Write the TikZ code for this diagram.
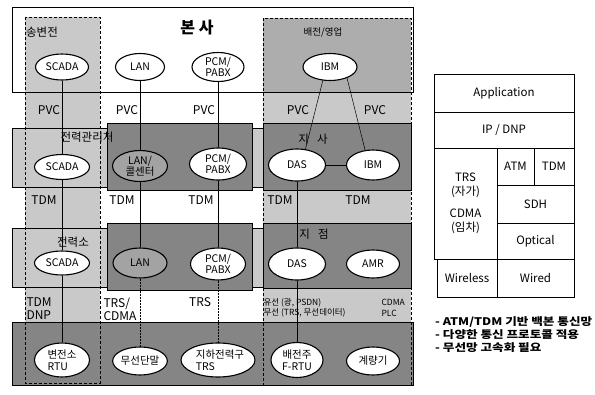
\documentclass[tikz,border=0pt]{standalone}
\usepackage{fontspec}
\setmainfont{Noto Sans CJK KR}
\newfontfamily\notefont[FakeStretch=1.2]{Noto Sans CJK KR}
\usetikzlibrary{shapes.geometric}
\definecolor{shadeL}{gray}{0.79}
\definecolor{shadeM}{gray}{0.68}
\definecolor{shadeD}{gray}{0.52}
\definecolor{shadeE}{gray}{0.64}

\begin{document}
\begin{tikzpicture}[x=1pt, y=-1pt, font=\fontsize{10.5}{11.5}\selectfont,
    el/.style={ellipse, draw=black, line width=1.1pt, fill=white, inner sep=0pt, align=center, minimum width=54pt, minimum height=28pt},
    box/.style={draw=black, line width=0.7pt},
    lk/.style={font=\fontsize{12}{13}\selectfont},
    ttl/.style={font=\fontsize{11.5}{12}\selectfont},
    cell/.style={draw=black, line width=0.8pt, inner sep=0pt, align=center, font=\fontsize{11.5}{13.5}\selectfont}]

    \useasboundingbox (0,0) rectangle (595,394);
    \fill[white] (0,0) rectangle (595,394);

    % head office frame and the two columns
    \draw[box, fill=white] (12,7) rectangle (413,92);
    \fill[shadeL] (25,17) rectangle (100,383);
    \fill[shadeL] (263,18) rectangle (411,385);
    \fill[shadeM] (263,18) rectangle (411,92);
    \draw[box] (12,7) rectangle (413,92);

    % row boxes
    \draw[box, fill=shadeL] (12,128) rectangle (263,187);
    \draw[box, fill=shadeD] (107,123) rectangle (252,190);
    \draw[box, fill=shadeD] (263,123) rectangle (411,190);
    \draw[box, fill=shadeL] (12,228) rectangle (263,287);
    \draw[box, fill=shadeD] (107,223) rectangle (252,290);
    \draw[box, fill=shadeD] (263,223) rectangle (411,288);
    \draw[box, fill=shadeD] (12,322) rectangle (413,385);
    \draw[densely dashed, line width=0.5pt] (25,17) rectangle (100,383);
    \draw[densely dashed, line width=0.5pt] (263,18) rectangle (411,385);

    % titles
    \node[font=\fontsize{16}{16}\selectfont\bfseries] (hq) at (197,28) {본 사};
    \node[ttl] (tsub) at (42,32) {송변전};
    \node[ttl, font=\fontsize{9.5}{10}\selectfont] (tdist) at (323,32) {배전/영업};
    \node[ttl] (tctr) at (87,137) {전력관리처};
    \node[ttl] (tbr) at (313,139) {지\,\,\, 사};
    \node[ttl] (tsta) at (73,242) {전력소};
    \node[ttl] (tpt) at (314,234) {지\,\,\, 점};

    % nodes, row by row
    \node[el, minimum width=53pt, minimum height=26pt] (sc1) at (62,67) {SCADA};
    \node[el, minimum width=49pt, minimum height=27pt] (lan1) at (140,67) {LAN};
    \node[el, minimum width=52pt, minimum height=29pt] (pcm1) at (218,67) {PCM/\\PABX};
    \node[el, minimum width=54pt, minimum height=27pt] (ibm1) at (330,67) {IBM};

    \node[el, minimum width=55pt, minimum height=25pt] (sc2) at (62,167) {SCADA};
    \node[el, fill=shadeE, minimum width=55pt, minimum height=31pt] (lan2) at (140,166) {LAN/\\콜센터};
    \node[el, minimum width=57pt, minimum height=32pt] (pcm2) at (218,164) {PCM/\\PABX};
    \node[el, minimum width=57pt, minimum height=32pt] (das2) at (297,165) {DAS};
    \node[el, minimum width=53pt, minimum height=30pt] (ibm2) at (373,165) {IBM};

    \node[el, minimum width=55pt, minimum height=24pt] (sc3) at (62,263) {SCADA};
    \node[el, fill=shadeE, minimum width=54pt, minimum height=30pt] (lan3) at (140,263) {LAN};
    \node[el, minimum width=55pt, minimum height=32pt] (pcm3) at (218,264) {PCM/\\PABX};
    \node[el, minimum width=57pt, minimum height=32pt] (das3) at (297,264) {DAS};
    \node[el, minimum width=53pt, minimum height=28pt] (amr3) at (373,264) {AMR};

    \node[el, align=left, minimum width=55pt, minimum height=34pt] (rtu) at (62,360) {변전소\\RTU};
    \node[el, minimum width=54pt, minimum height=28pt] (mob) at (140,361) {무선단말};
    \node[el, align=left, minimum width=55pt, minimum height=34pt] (tun) at (218,360) {\hspace*{4pt}지하전력구\\\hspace*{4pt}TRS};
    \node[el, minimum width=52pt, minimum height=35pt] (frtu) at (297,360) {배전주\\F-RTU};
    \node[el, minimum width=53pt, minimum height=28pt] (mtr) at (373,361) {계량기};

    % links
    \draw[line width=0.5pt] (sc1) -- (sc2) -- (sc3) -- (rtu);
    \draw[line width=0.5pt] (lan1) -- (lan2) -- (lan3);
    \draw[line width=0.5pt, densely dotted] (lan3) -- (mob);
    \draw[line width=0.5pt] (pcm1) -- (pcm2) -- (pcm3);
    \draw[line width=0.5pt, densely dotted] (pcm3) -- (tun);
    \draw[line width=0.5pt] (ibm1.-118) -- (das2.62);
    \draw[line width=0.5pt] (ibm1.-33) -- (ibm2.118);
    \draw[line width=0.5pt] (das2) -- (ibm2);
    \draw[line width=0.5pt] (das2) -- (das3) -- (frtu);

    % link labels
    \foreach \x/\n in {49/p1,127/p2,204/p3,298/p4,375/p5}
      \node[lk] (\n) at (\x,110) {PVC};
    \foreach \x/\n in {44/t1,122/t2,201/t3,280/t4,358/t5}
      \node[lk] (\n) at (\x,200) {TDM};
    \node[lk, align=left, anchor=west] (l1) at (23,309) {TDM\\DNP};
    \node[lk, align=left, anchor=west] (l2) at (100,309) {TRS/\\CDMA};
    \node[lk] (l3) at (200,302) {TRS};
    \node[align=left, anchor=west, font=\fontsize{8.5}{10.5}\selectfont] (l4) at (260,308) {유선 (광, PSDN)\\무선 (TRS, 무선데이터)};
    \node[align=left, anchor=west, font=\fontsize{8.5}{10.5}\selectfont] (l5) at (378,308) {CDMA\\PLC};

    % protocol stack
    \node[cell, minimum width=140pt, minimum height=38pt] (app) at (504,93) {Application};
    \node[cell, minimum width=140pt, minimum height=36pt] (ip) at (504,130) {IP / DNP};
    \node[cell, minimum width=63pt, minimum height=111pt] (rad) at (465.5,203.5) {TRS\\(자가)\\[9pt]CDMA\\(임차)};
    \node[cell, minimum width=37pt, minimum height=37pt] (atm) at (515.5,166.5) {ATM};
    \node[cell, minimum width=40pt, minimum height=37pt] (tdm) at (554,166.5) {TDM};
    \node[cell, minimum width=77pt, minimum height=38pt] (sdh) at (535.5,204) {SDH};
    \node[cell, minimum width=77pt, minimum height=36pt] (opt) at (535.5,241) {Optical};
    \node[cell, minimum width=60pt, minimum height=38pt] (wl) at (467,278) {Wireless};
    \node[cell, minimum width=77pt, minimum height=38pt] (wd) at (535.5,278) {Wired};

    \node[align=left, anchor=west, inner sep=0pt, font=\notefont\fontsize{10.5}{13}\selectfont\bfseries] (notes) at (435,335)
      {- ATM/TDM 기반 백본 통신망\\- 다양한 통신 프로토콜 적용\\- 무선망 고속화 필요};
\end{tikzpicture}
\end{document}
